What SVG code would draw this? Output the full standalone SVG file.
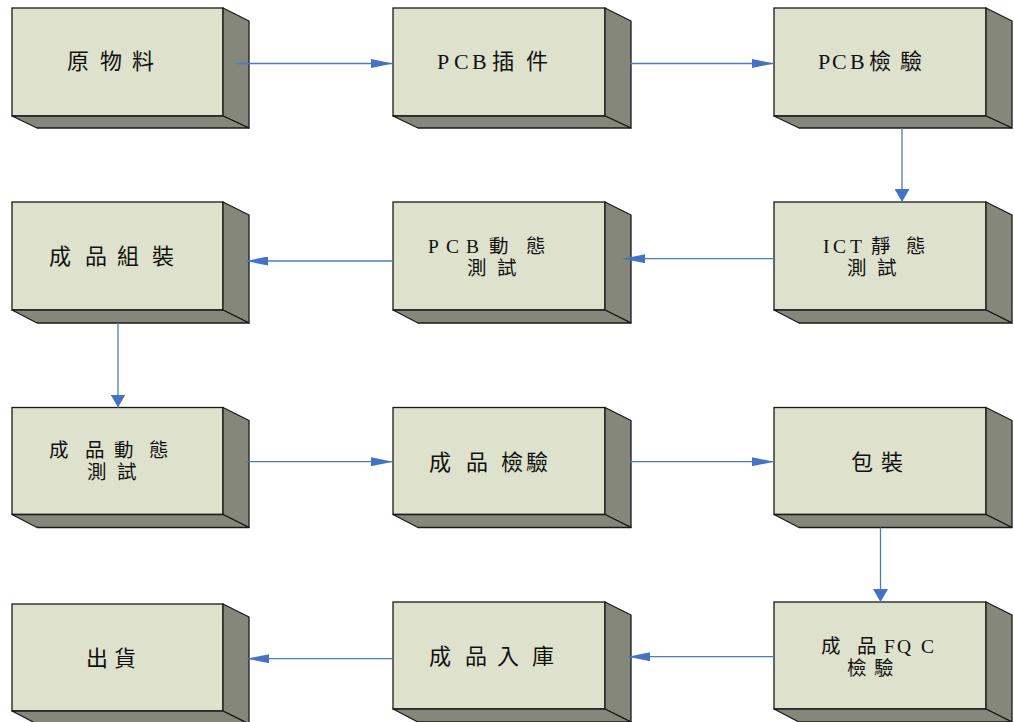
<svg xmlns="http://www.w3.org/2000/svg" width="1014" height="722" viewBox="0 0 1014 722">
<style>
.front{fill:#DEE1CC;stroke:#1a1a1a;stroke-width:1.3}
.side{fill:#85877A;stroke:#1a1a1a;stroke-width:1.3;stroke-linejoin:round}
.lbl{font-family:"Liberation Serif","Noto Sans CJK TC",serif;font-size:22px;fill:#111}
.lbl2{font-family:"Liberation Serif","Noto Sans CJK TC",serif;font-size:19.5px;fill:#111}
.conn{stroke:#4A7EBB;stroke-width:1.3;fill:none}
</style>
<defs>
<marker id="ah" viewBox="0 0 22 9" refX="22" refY="4.5" markerWidth="22" markerHeight="9" markerUnits="userSpaceOnUse" orient="auto">
<path d="M0,0 L22,4.5 L0,9 z" fill="#4472C4"/>
</marker>
<marker id="av" viewBox="0 0 13 15" refX="13" refY="7.5" markerWidth="13" markerHeight="15" markerUnits="userSpaceOnUse" orient="auto">
<path d="M0,0 L13,7.5 L0,15 z" fill="#4472C4"/>
</marker>
</defs>
<rect width="1014" height="722" fill="#ffffff"/>

<g id="n1">
<rect class="front" x="12" y="8" width="211" height="108"/>
<polygon class="side" points="223,8 249,21 249,128 223,116"/>
<polygon class="side" points="12,116 223,116 249,128 37,128"/>
<text class="lbl" x="67 100 132" y="69">原物料</text>
</g>
<g id="n2">
<rect class="front" x="393" y="8" width="212" height="108"/>
<polygon class="side" points="605,8 631,21 631,128 605,116"/>
<polygon class="side" points="393,116 605,116 631,128 418,128"/>
<text class="lbl" x="437 454 472 492 526" y="68.5">PCB插件</text>
</g>
<g id="n3">
<rect class="front" x="774" y="8" width="212" height="108"/>
<polygon class="side" points="986,8 1012,21 1012,128 986,116"/>
<polygon class="side" points="774,116 986,116 1012,128 799,128"/>
<text class="lbl" x="818 832 850 869 900" y="68.5">PCB檢驗</text>
</g>
<g id="n4">
<rect class="front" x="774" y="202" width="212" height="108"/>
<polygon class="side" points="986,202 1012,215 1012,323 986,310"/>
<polygon class="side" points="774,310 986,310 1012,323 799,323"/>
<text class="lbl2"><tspan x="823 833 850 871 906" y="252.5">ICT靜態</tspan><tspan x="847 877" y="274.5">測試</tspan></text>
</g>
<g id="n5">
<rect class="front" x="393" y="202" width="212" height="108"/>
<polygon class="side" points="605,202 631,215 631,323 605,310"/>
<polygon class="side" points="393,310 605,310 631,323 418,323"/>
<text class="lbl2"><tspan x="428 446 466 489 526" y="252.5">PCB動態</tspan><tspan x="467 497" y="274.5">測試</tspan></text>
</g>
<g id="n6">
<rect class="front" x="12" y="202" width="211" height="108"/>
<polygon class="side" points="223,202 249,215 249,323 223,310"/>
<polygon class="side" points="12,310 223,310 249,323 37,323"/>
<text class="lbl" x="49 85 117 152" y="264">成品組裝</text>
</g>
<g id="n7">
<rect class="front" x="12" y="407.5" width="211" height="107"/>
<polygon class="side" points="223,407.5 249,420.5 249,527.5 223,514.5"/>
<polygon class="side" points="12,514.5 223,514.5 249,527.5 37,527.5"/>
<text class="lbl2"><tspan x="49 85 114 149" y="457">成品動態</tspan><tspan x="87 117" y="479">測試</tspan></text>
</g>
<g id="n8">
<rect class="front" x="393" y="407.5" width="212" height="107"/>
<polygon class="side" points="605,407.5 631,420.5 631,527.5 605,514.5"/>
<polygon class="side" points="393,514.5 605,514.5 631,527.5 418,527.5"/>
<text class="lbl" x="429 466 501 526" y="469.5">成品檢驗</text>
</g>
<g id="n9">
<rect class="front" x="774" y="407.5" width="212" height="107"/>
<polygon class="side" points="986,407.5 1012,420.5 1012,527.5 986,514.5"/>
<polygon class="side" points="774,514.5 986,514.5 1012,527.5 799,527.5"/>
<text class="lbl" x="851 881" y="469.5">包裝</text>
</g>
<g id="n10">
<rect class="front" x="774" y="602" width="212" height="107"/>
<polygon class="side" points="986,602 1012,615 1012,722 986,709"/>
<polygon class="side" points="774,709 986,709 1012,722 799,722"/>
<text class="lbl2"><tspan x="821 857 884 897 921" y="652.5">成品FQC</tspan><tspan x="847 874" y="674.5">檢驗</tspan></text>
</g>
<g id="n11">
<rect class="front" x="393" y="602" width="212" height="107"/>
<polygon class="side" points="605,602 631,615 631,722 605,709"/>
<polygon class="side" points="393,709 605,709 631,722 418,722"/>
<text class="lbl" x="429 465 497 532" y="664">成品入庫</text>
</g>
<g id="n12">
<rect class="front" x="12" y="604" width="211" height="107"/>
<polygon class="side" points="223,604 249,617 249,724 223,711"/>
<polygon class="side" points="12,711 223,711 249,724 37,724"/>
<text class="lbl" x="86 114" y="666">出貨</text>
</g>

<g id="connectors">
<line class="conn" x1="236" y1="63.5" x2="393" y2="63.5" marker-end="url(#ah)"/>
<line class="conn" x1="630" y1="63.5" x2="774" y2="63.5" marker-end="url(#ah)"/>
<line class="conn" x1="902" y1="128" x2="902" y2="202" marker-end="url(#av)"/>
<line class="conn" x1="774" y1="258.7" x2="623" y2="258.7" marker-end="url(#ah)"/>
<line class="conn" x1="393" y1="261" x2="246" y2="261" marker-end="url(#ah)"/>
<line class="conn" x1="118" y1="323" x2="118" y2="407.5" marker-end="url(#av)"/>
<line class="conn" x1="245" y1="461.7" x2="393" y2="461.7" marker-end="url(#ah)"/>
<line class="conn" x1="630" y1="461.7" x2="774" y2="461.7" marker-end="url(#ah)"/>
<line class="conn" x1="880.5" y1="527.5" x2="880.5" y2="602" marker-end="url(#av)"/>
<line class="conn" x1="774" y1="656.7" x2="628" y2="656.7" marker-end="url(#ah)"/>
<line class="conn" x1="393" y1="658.7" x2="247" y2="658.7" marker-end="url(#ah)"/>
</g>
</svg>
